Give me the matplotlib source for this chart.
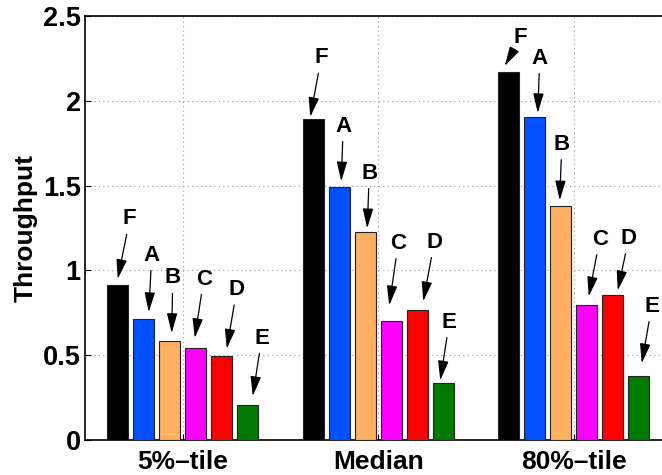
import matplotlib
matplotlib.use("Agg")
import matplotlib.pyplot as plt
import matplotlib.transforms as mtransforms
import numpy as np

plt.rcParams['font.family'] = ['Liberation Sans', 'DejaVu Sans']
plt.rcParams['font.weight'] = 'bold'

groups = ["5%\u2013tile", "Median", "80%\u2013tile"]
series = ["F", "A", "B", "C", "D", "E"]
vals_F = [0.914, 1.893, 2.170]
vals_A = [0.713, 1.490, 1.904]
vals_B = [0.584, 1.225, 1.378]
vals_C = [0.542, 0.700, 0.794]
vals_D = [0.497, 0.765, 0.853]
vals_E = [0.206, 0.334, 0.376]
colors = ["#000000", "#0050FF", "#FFB060", "#FF00FF", "#FF0000", "#007A00"]

# annotation offsets in pixels: (tip dx, tip dy, text dx, text dy) per group, per series
ann_offsets = [
    [(0, 6, 12, 60), (5, 7, 3, 57), (2, 8, 1, 55), (-1, 10, 9, 59), (5, 7, 10, 59), (5, 9, 9, 58)],
    [(-3, 2, 11, 59), (2, 6, 2, 55), (2, 4, 2, 55), (-2, 16, 9, 62), (6, 9, 11, 59), (-3, 3, 9, 58)],
    [(-4, 6, 16, 28), (3, 4, 2, 55), (-1, 6, 2, 56), (2, 9, 11, 57), (5, 5, 11, 52), (3, 13, 10, 57)],
]

all_vals = [vals_F, vals_A, vals_B, vals_C, vals_D, vals_E]

fig = plt.figure(figsize=(6.62, 4.75), dpi=100)
ax = fig.add_axes([85/662, 35/475, 586.5/662, 424/475])

x = np.arange(1, len(groups) + 1)
step = 0.133
width = 0.107
n = len(series)
for i, (name, v, c) in enumerate(zip(series, all_vals, colors)):
    xs = x + (i - (n - 1) / 2) * step
    ax.bar(xs, v, width=width, color=c, edgecolor="#222222", linewidth=0.8, zorder=3)
    for g in range(len(groups)):
        tdx, tdy, sdx, sdy = ann_offsets[g][i]
        tr = mtransforms.offset_copy(ax.transData, fig=fig, x=tdx, y=tdy, units='dots')
        ax.annotate(name, xy=(xs[g], v[g]), xycoords=tr,
                    xytext=(sdx, sdy), textcoords='offset pixels',
                    ha='center', va='center', fontsize=16, fontweight='bold',
                    arrowprops=dict(arrowstyle='-|>,head_length=0.75,head_width=0.2',
                                    color='black', lw=0.9, shrinkA=1.5, shrinkB=0),
                    zorder=5)

ax.set_xlim(0.5, 3.5)
ax.set_ylim(0, 2.5)
ax.set_xticks(x)
ax.set_xticklabels(groups, fontsize=19, fontweight='bold')
ax.set_yticks([0, 0.5, 1, 1.5, 2, 2.5])
ax.set_yticklabels(["0", "0.5", "1", "1.5", "2", "2.5"], fontsize=19.5, fontweight='bold')
ax.set_ylabel("Throughput", fontsize=19, fontweight='bold', labelpad=4)
ax.tick_params(direction='in', length=4, width=0.8, pad=3)
ax.tick_params(axis='x', pad=7)
ax.grid(True, linestyle=(0, (1, 3)), color='#999999', linewidth=0.8, zorder=0)
for s in ['left', 'bottom', 'top']:
    ax.spines[s].set_linewidth(1.2)
    ax.spines[s].set_color('black')

fig.savefig("out.png", dpi=100)
